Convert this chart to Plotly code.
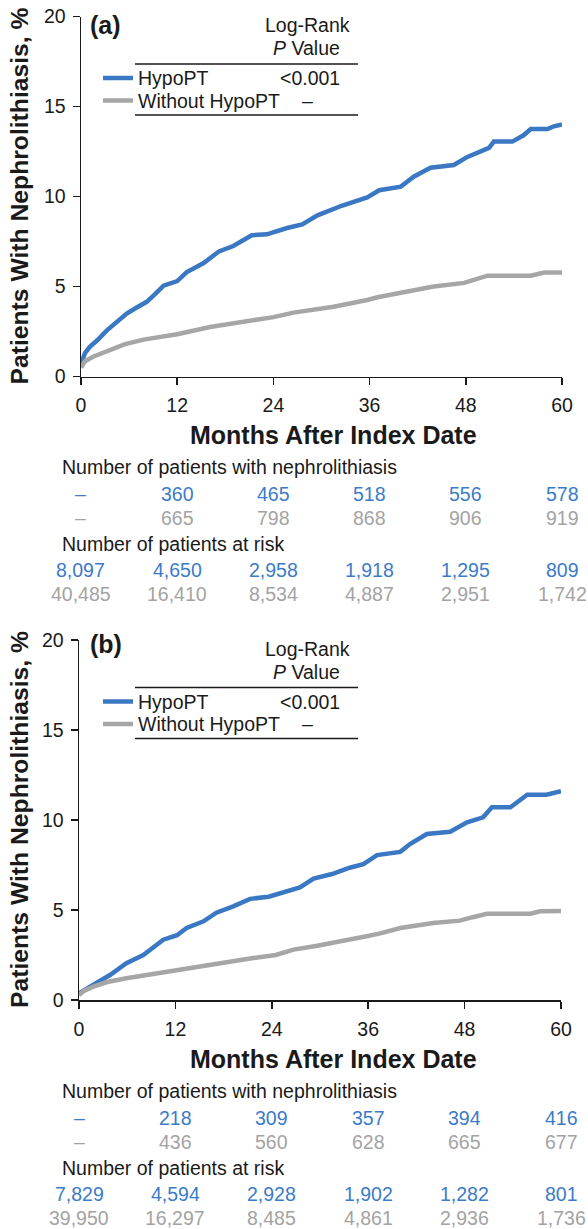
import plotly.graph_objects as go

# ---------------- data ----------------
months_ticks = [0, 12, 24, 36, 48, 60]

# Panel (a) curves (month, cumulative %)
a_hypo_x = [0, 0.5, 1.1, 2, 3.2, 4.5, 5.7, 7, 8.2, 9.3, 10.3, 12, 13.2, 15.3, 17.2, 19, 21.3, 23.2, 25.7,
            27.6, 29.5, 32.6, 35.7, 37.2, 39.9, 41.5, 43.6, 46.5, 48.2, 50.9, 51.5, 53.8, 55.2, 56.1, 58.2, 59, 60]
a_hypo_y = [0.7, 1.3, 1.65, 2.0, 2.55, 3.05, 3.5, 3.85, 4.15, 4.6, 5.05, 5.3, 5.8, 6.3, 6.95, 7.25, 7.85, 7.9, 8.25,
            8.45, 8.95, 9.5, 9.95, 10.35, 10.55, 11.1, 11.6, 11.75, 12.2, 12.7, 13.05, 13.05, 13.4, 13.75, 13.75, 13.9, 14.0]
a_wo_x = [0, 0.5, 1.5, 3.6, 5.5, 7.8, 12, 16.1, 21.5, 24, 26.5, 29, 31.5, 35.7, 37, 39.9, 44, 47.8, 49.5, 50.7,
          56.1, 57.8, 60]
a_wo_y = [0.5, 0.85, 1.1, 1.5, 1.8, 2.05, 2.35, 2.75, 3.12, 3.3, 3.55, 3.7, 3.88, 4.25, 4.4, 4.65, 5.0, 5.2, 5.4, 5.6,
          5.6, 5.78, 5.78]

# Panel (b) curves
b_hypo_x = [0, 1, 1.8, 3.9, 5.9, 8, 10.5, 12.2, 13.4, 15.5, 17.1, 19.2, 21.3, 23.6, 26.3, 27.5, 29.2, 31.5, 33.7,
            35.4, 37.1, 40, 41.2, 43.3, 46.2, 48.3, 50.3, 51.4, 53.7, 55.8, 58.2, 60]
b_hypo_y = [0.37, 0.6, 0.85, 1.4, 2.05, 2.5, 3.35, 3.6, 4.0, 4.37, 4.85, 5.2, 5.62, 5.74, 6.1, 6.25, 6.75, 7.0, 7.35,
            7.55, 8.05, 8.23, 8.66, 9.22, 9.35, 9.87, 10.15, 10.71, 10.71, 11.4, 11.4, 11.6]
b_wo_x = [0, 0.6, 1.8, 3.5, 5.9, 12.2, 16.3, 21.7, 24.5, 26.7, 29.5, 32.1, 35.8, 37.5, 40, 44.1, 47.4, 49, 50.8,
          56.2, 57.4, 60]
b_wo_y = [0.28, 0.5, 0.74, 1.0, 1.21, 1.68, 1.96, 2.33, 2.5, 2.8, 3.0, 3.2, 3.54, 3.7, 4.0, 4.28, 4.41, 4.6, 4.79,
          4.79, 4.93, 4.95]

# Tables
a_neph_hypo = ["–", "360", "465", "518", "556", "578"]
a_neph_wo = ["–", "665", "798", "868", "906", "919"]
a_risk_hypo = ["8,097", "4,650", "2,958", "1,918", "1,295", "809"]
a_risk_wo = ["40,485", "16,410", "8,534", "4,887", "2,951", "1,742"]

b_neph_hypo = ["–", "218", "309", "357", "394", "416"]
b_neph_wo = ["–", "436", "560", "628", "665", "677"]
b_risk_hypo = ["7,829", "4,594", "2,928", "1,902", "1,282", "801"]
b_risk_wo = ["39,950", "16,297", "8,485", "4,861", "2,936", "1,736"]

legend_names = ["HypoPT", "Without HypoPT"]
legend_pvals = ["<0.001", "–"]
panel_labels = ["(a)", "(b)"]

# ---------------- styling ----------------
W, H = 588, 1229
BLUE = "#3a78c4"
GRAY = "#a6a6a6"
BLUE_T = "#3b7bc9"
GRAY_T = "#a3a3a3"
INK = "#1a1a1a"
FONT = "Liberation Sans, Arial, Helvetica, sans-serif"


def X(px):
    return px / W


def Y(py):
    return 1 - py / H


fig = go.Figure()

panels = [
    dict(xa="x", ya="y", xd=(81, 562), yd=(16.5, 376.5), off=0, lab_y=25,
         curves=[(a_hypo_x, a_hypo_y, BLUE), (a_wo_x, a_wo_y, GRAY)],
         tab=[a_neph_hypo, a_neph_wo, a_risk_hypo, a_risk_wo]),
    dict(xa="x2", ya="y2", xd=(79, 561), yd=(640, 1000), off=624, lab_y=644,
         curves=[(b_hypo_x, b_hypo_y, BLUE), (b_wo_x, b_wo_y, GRAY)],
         tab=[b_neph_hypo, b_neph_wo, b_risk_hypo, b_risk_wo]),
]

annotations = []
shapes = []

for i, p in enumerate(panels):
    for (xs, ys, col) in p["curves"]:
        fig.add_trace(go.Scatter(x=xs, y=ys, mode="lines", xaxis=p["xa"], yaxis=p["ya"],
                                 line=dict(color=col, width=4.5), showlegend=False, hoverinfo="skip"))
    off = p["off"]
    t0 = p["yd"][0]
    # panel label
    annotations.append(dict(text="<b>%s</b>" % panel_labels[i], x=X(88), y=Y(p["lab_y"]), xref="paper",
                            yref="paper", xanchor="left", yanchor="middle", showarrow=False,
                            font=dict(size=25, family=FONT, color=INK)))
    # legend header
    annotations.append(dict(text="Log-Rank", x=X(352), y=Y(t0 + 8.5), xref="paper", yref="paper",
                            xanchor="right", yanchor="middle", showarrow=False,
                            font=dict(size=19.5, family=FONT, color=INK)))
    annotations.append(dict(text="<i>P</i> Value", x=X(342), y=Y(t0 + 31.5), xref="paper", yref="paper",
                            xanchor="right", yanchor="middle", showarrow=False,
                            font=dict(size=19.5, family=FONT, color=INK)))
    for yy in (t0 + 47.5, t0 + 98.5):
        shapes.append(dict(type="line", xref="paper", yref="paper", x0=X(135), x1=X(358), y0=Y(yy), y1=Y(yy),
                           line=dict(color=INK, width=1.5)))
    for k, (nm, pv, col) in enumerate(zip(legend_names, legend_pvals, [BLUE, GRAY])):
        yy = t0 + 61.5 + k * 22.5
        shapes.append(dict(type="line", xref="paper", yref="paper", x0=X(103), x1=X(133), y0=Y(yy), y1=Y(yy),
                           line=dict(color=col, width=4.5)))
        annotations.append(dict(text=nm, x=X(136), y=Y(yy), xref="paper", yref="paper",
                                xanchor="left", yanchor="middle", showarrow=False,
                                font=dict(size=19.5, family=FONT, color=INK)))
        annotations.append(dict(text=pv, x=X(278 if k == 0 else 300), y=Y(yy), xref="paper", yref="paper",
                                xanchor="left", yanchor="middle", showarrow=False,
                                font=dict(size=19.5, family=FONT, color=INK)))
    # axis titles
    annotations.append(dict(text="<b>Months After Index Date</b>", x=X(333), y=Y(435 + off), xref="paper",
                            yref="paper", xanchor="center", yanchor="middle", showarrow=False,
                            font=dict(size=25, family=FONT, color=INK)))
    annotations.append(dict(text="<b>Patients With Nephrolithiasis, %</b>", x=X(19),
                            y=Y((p["yd"][0] + p["yd"][1]) / 2), xref="paper", yref="paper",
                            xanchor="center", yanchor="middle", textangle=-90, showarrow=False,
                            font=dict(size=24.7, family=FONT, color=INK)))
    # tables
    annotations.append(dict(text="Number of patients with nephrolithiasis", x=X(60), y=Y(467 + off),
                            xref="paper", yref="paper", xanchor="left", yanchor="middle", showarrow=False,
                            font=dict(size=19.5, family=FONT, color=INK)))
    annotations.append(dict(text="Number of patients at risk", x=X(60), y=Y(544 + off),
                            xref="paper", yref="paper", xanchor="left", yanchor="middle", showarrow=False,
                            font=dict(size=19.5, family=FONT, color=INK)))
    rows_y = [494, 518, 570, 594]
    rows_c = [BLUE_T, GRAY_T, BLUE_T, GRAY_T]
    for vals, ry, rc in zip(p["tab"], rows_y, rows_c):
        for m, v in zip(months_ticks, vals):
            annotations.append(dict(text=v, x=m, y=Y(ry + off), xref=p["xa"], yref="paper",
                                    xanchor="center", yanchor="middle", showarrow=False,
                                    font=dict(size=19.5, family=FONT, color=rc)))

axis_common = dict(showline=True, linecolor=INK, linewidth=1.5, ticks="outside", ticklen=7, tickwidth=1.5,
                   tickcolor=INK, showgrid=False, zeroline=False, automargin=False,
                   tickfont=dict(size=19.5, family=FONT, color=INK))

layout_axes = {}
for i, p in enumerate(panels):
    sfx = "" if i == 0 else "2"
    layout_axes["xaxis" + sfx] = dict(axis_common, domain=[X(p["xd"][0]), X(p["xd"][1])], range=[0, 60],
                                      tickvals=months_ticks, anchor="y" + sfx, ticklabelstandoff=4)
    layout_axes["yaxis" + sfx] = dict(axis_common, domain=[Y(p["yd"][1]), Y(p["yd"][0])], range=[0, 20],
                                      tickvals=[0, 5, 10, 15, 20], anchor="x" + sfx, ticklabelstandoff=3)

fig.update_layout(template="none", width=W, height=H, margin=dict(l=0, r=0, t=0, b=0, autoexpand=False),
                  paper_bgcolor="white", plot_bgcolor="white", showlegend=False,
                  annotations=annotations, shapes=shapes, font=dict(family=FONT), **layout_axes)

fig.write_html("out.html", config={"displayModeBar": False, "staticPlot": True},
               post_script="document.body.style.margin='0';document.body.style.padding='0';"
                           "document.body.style.overflow='hidden';")
